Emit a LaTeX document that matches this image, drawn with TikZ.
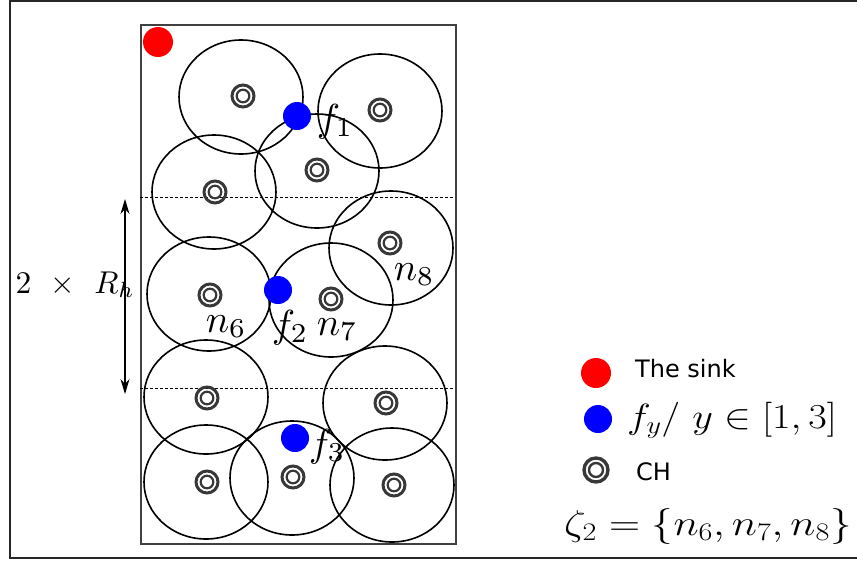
\RequirePackage{fix-cm}
\documentclass[tikz,border=0pt]{standalone}
\usepackage{fontspec}
\newfontfamily\dejavu{DejaVu Sans}
\usetikzlibrary{shapes.geometric,arrows.meta}
\begin{document}
\begin{tikzpicture}[x=1pt,y=-1pt,
  sensor/.style={ellipse,draw=black,line width=1.6pt,minimum width=124pt,minimum height=114pt,inner sep=0pt},
  ch/.style={circle,draw=black!78,line width=3pt,minimum size=22pt,inner sep=0pt,
    path picture={\draw[black!78,line width=2.2pt] (path picture bounding box.center) circle (6.3pt);}},
  bigch/.style={circle,draw=black!78,line width=3.4pt,minimum size=24pt,inner sep=0pt,
    path picture={\draw[black!78,line width=2.4pt] (path picture bounding box.center) circle (7pt);}},
  sinkdot/.style={circle,fill=red,minimum size=30pt,inner sep=0pt},
  fdot/.style={circle,fill=blue,minimum size=28pt,inner sep=0pt},
  lbl/.style={anchor=base west,inner sep=0pt,scale=3.9},
  leg/.style={anchor=base west,inner sep=0pt,xscale=1.15,font=\fontsize{35}{38}\selectfont},
  legsans/.style={anchor=base west,inner sep=0pt,font=\dejavu\fontsize{24}{28}\selectfont},
  sep/.style={dashed,dash pattern=on 3pt off 2pt,line width=1pt},
  dimarrow/.style={line width=1.1pt,{Stealth[length=15pt,width=9pt]}-{Stealth[length=15pt,width=9pt]}}
]
\useasboundingbox (0,0) rectangle (857,563);
% outer frame (open on the right)
\draw[line width=2.5pt,black!85] (857,1.2) -- (10,1.2) -- (10,558) -- (857,558);
% field
\draw[line width=1.3pt,black!75] (141,25) rectangle (456,544);
% dashed separators
\coordinate (d1a) at (140,197); \coordinate (d1b) at (455,197);
\coordinate (d2a) at (140,388); \coordinate (d2b) at (455,388);
\draw[sep] (d1a) -- (d1b);
\draw[sep] (d2a) -- (d2b);
% coverage ellipses
\node[sensor] (s1) at (241,97) {};
\node[sensor] (s2) at (380,111) {};
\node[sensor] (s3) at (317,171) {};
\node[sensor] (s4) at (214,192) {};
\node[sensor] (s5) at (391,248) {};
\node[sensor] (s6) at (209,294) {};
\node[sensor] (s7) at (331,300) {};
\node[sensor] (s8) at (206,397) {};
\node[sensor] (s9) at (385,403) {};
\node[sensor] (s10) at (206,482) {};
\node[sensor] (s11) at (292,478) {};
\node[sensor] (s12) at (392,485) {};
% cluster heads
\node[ch] (c1) at (243,96) {};
\node[ch] (c2) at (380,110) {};
\node[ch] (c3) at (317,170) {};
\node[ch] (c4) at (215,192) {};
\node[ch] (c5) at (390,243) {};
\node[ch] (c6) at (210,295) {};
\node[ch] (c7) at (331,299) {};
\node[ch] (c8) at (207,398) {};
\node[ch] (c9) at (386,403) {};
\node[ch] (c10) at (207,482) {};
\node[ch] (c11) at (293,477) {};
\node[ch] (c12) at (394,485) {};
% sink and f points
\node[sinkdot] (sink) at (158,42) {};
\node[fdot] (f1) at (297,116) {};
\node[fdot] (f2) at (278,290) {};
\node[fdot] (f3) at (295,438) {};
% labels
\node[lbl] (lf1) at (316,131) {$f_1$};
\node[lbl] (lf2) at (271,337) {$f_2$};
\node[lbl] (lf3) at (308,456) {$f_3$};
\node[lbl] (ln6) at (205,332) {$n_6$};
\node[lbl] (ln7) at (316,335) {$n_7$};
\node[lbl] (ln8) at (393,280) {$n_8$};
% 2 x R_h
\coordinate (atop) at (125,199);
\coordinate (abot) at (125,394);
\draw[dimarrow] (atop) -- (abot);
\node[anchor=base west,inner sep=0pt,scale=3.15] (rh) at (15,293) {$2\mkern7mu\times\mkern7mu R_h$};
% legend
\node[sinkdot] (lsink) at (596,373) {};
\node[legsans] (tsink) at (635,377) {The sink};
\node[fdot] (lf) at (598,419) {};
\node[leg] (tf) at (627,428) {$f_y/\ y\in[1,3]$};
\node[bigch] (lch) at (596,470) {};
\node[legsans] (tch) at (636,480) {CH};
\node[leg,xscale=1.04,font=\fontsize{36}{40}\selectfont] (zeta) at (564,535) {$\zeta_2=\{n_6,n_7,n_8\}$};
\end{tikzpicture}
\end{document}
